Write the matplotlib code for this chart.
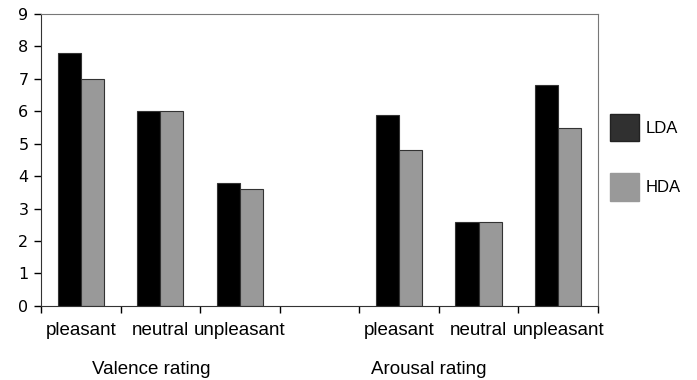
import numpy as np
import matplotlib
matplotlib.use('Agg')
from matplotlib.pyplot import figure
from matplotlib.patches import Patch

# data
categories = ['pleasant', 'neutral', 'unpleasant', '', 'pleasant', 'neutral', 'unpleasant']
lda = [7.8, 6.0, 3.8, np.nan, 5.9, 2.6, 6.8]
hda = [7.0, 6.0, 3.6, np.nan, 4.8, 2.6, 5.5]
groups = ['Valence rating', 'Arousal rating']
group_pos = [0.89, 4.37]
series = ['LDA', 'HDA']

fig = figure(figsize=(6.97, 3.8), dpi=100)
ax = fig.add_axes([0.0588, 0.195, 0.799, 0.768])

x = np.arange(len(categories))
w = 0.29
ax.bar(x - w/2, lda, width=w, color='black', edgecolor='#333333', linewidth=0.8)
ax.bar(x + w/2, hda, width=w, color='#999999', edgecolor='#333333', linewidth=0.8)

ax.set_xlim(-0.5, len(categories) - 0.5)
ax.set_ylim(0, 9)
ax.set_yticks(range(10))
ax.set_xticks(np.arange(len(categories) + 1) - 0.5)
ax.set_xticklabels([])
ax.tick_params(axis='y', direction='out', length=5, width=1, labelsize=11.5, pad=4)
ax.tick_params(axis='x', direction='out', length=5, width=1)
for lab in ax.get_yticklabels():
    lab.set_family('DejaVu Sans')

for i, c in enumerate(categories):
    ax.text(i, -0.75, c, ha='center', va='center', fontsize=13.5,
            family='Liberation Sans', clip_on=False)
for g, p in zip(groups, group_pos):
    ax.text(p, -1.95, g, ha='center', va='center', fontsize=13.5,
            family='Liberation Sans', clip_on=False)

ax.spines['left'].set_color('#333333')
ax.spines['bottom'].set_color('#333333')
ax.spines['top'].set_color('#777777')
ax.spines['right'].set_color('#777777')

handles = [Patch(facecolor='#303030', edgecolor='#222222'),
           Patch(facecolor='#999999', edgecolor='#999999')]
fig.legend(handles, series, loc='center left', bbox_to_anchor=(0.863, 0.586),
           frameon=False, prop={'family': 'Liberation Sans', 'size': 12},
           borderpad=0, handlelength=1.75, handleheight=2.2, labelspacing=1.9,
           handletextpad=0.4)

fig.savefig('out.png', dpi=100)
